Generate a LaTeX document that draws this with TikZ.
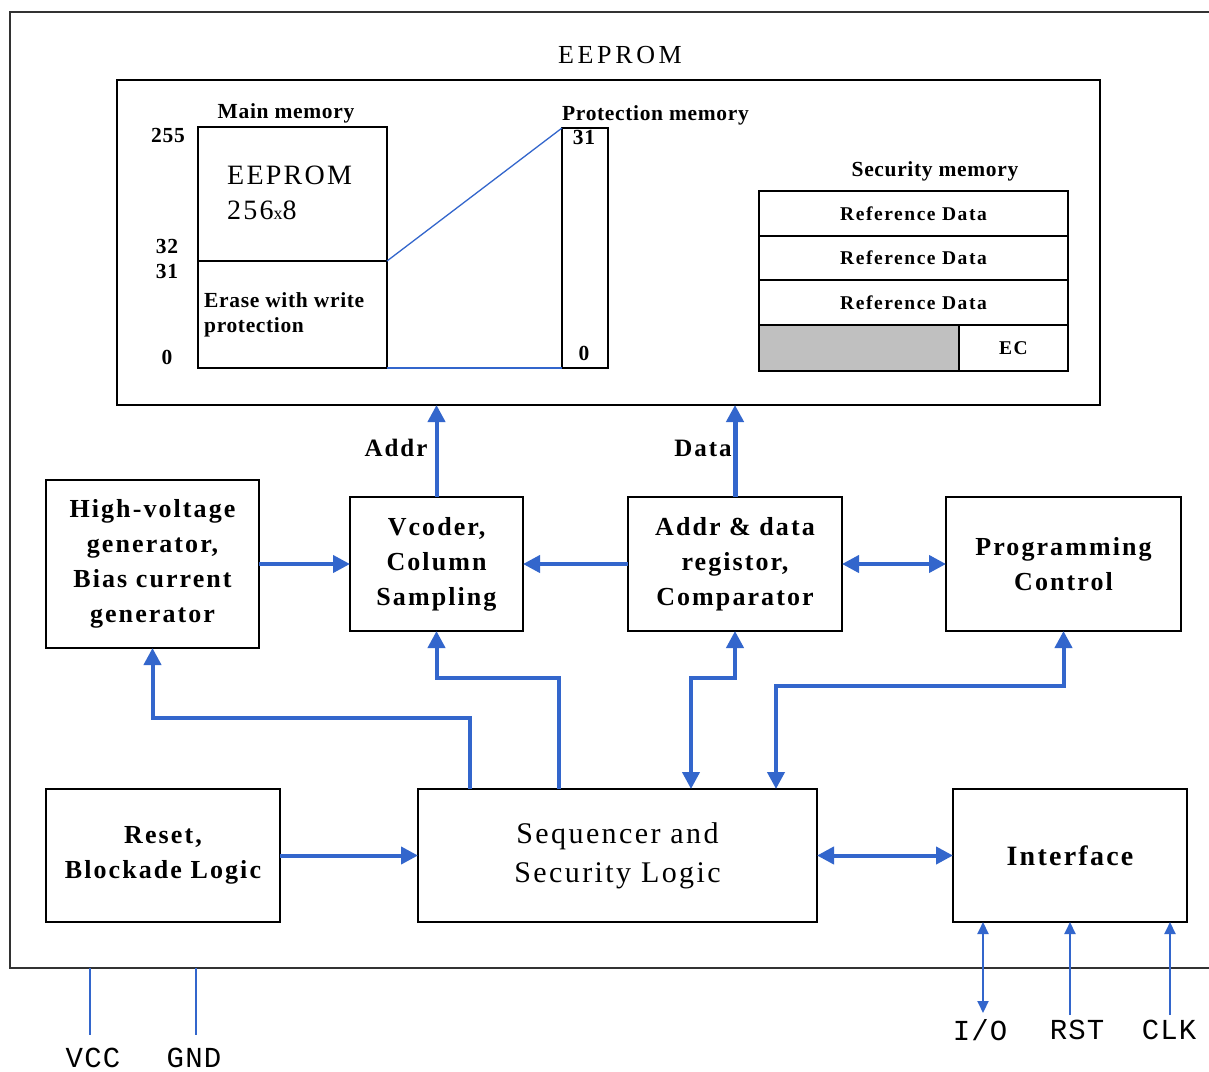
\documentclass[tikz,border=0pt]{standalone}
\usepackage{fontspec}
\setmainfont{Liberation Serif}
\newfontfamily\wideserif[LetterSpace=8]{Liberation Serif}
\newfontfamily\widerserif[LetterSpace=14]{Liberation Serif}
\newfontfamily\tightserif[LetterSpace=3]{Liberation Serif}
\newfontfamily\monolab[LetterSpace=4]{Liberation Mono}
\usetikzlibrary{arrows.meta}
\definecolor{linkblue}{RGB}{51,102,204}
\definecolor{memgray}{RGB}{192,192,192}
\definecolor{framegray}{RGB}{50,50,50}
\begin{document}
\begin{tikzpicture}[x=1pt,y=-1pt,
  blk/.style={draw=black, line width=1.8pt, inner sep=0pt, outer sep=0pt, align=center},
  bigtext/.style={font=\wideserif\bfseries\fontsize{26}{35}\selectfont},
  seqtext/.style={font=\wideserif\fontsize{30}{39}\selectfont},
  smalltext/.style={font=\tightserif\bfseries\fontsize{21.5}{27}\selectfont, inner sep=0pt},
  reftext/.style={font=\wideserif\bfseries\fontsize{19.5}{22}\selectfont, inner sep=0pt},
  pintext/.style={font=\monolab\fontsize{29}{32}\selectfont, inner sep=0pt},
  link/.style={draw=linkblue, line width=4pt, -{Triangle[length=17pt,width=17pt]}},
  dlink/.style={draw=linkblue, line width=4pt, {Triangle[length=17pt,width=17pt]}-{Triangle[length=17pt,width=17pt]}},
  thinlink/.style={draw=linkblue, line width=2pt, -{Triangle[length=12pt,width=11pt]}},
  thindlink/.style={draw=linkblue, line width=2pt, {Triangle[length=12pt,width=11pt]}-{Triangle[length=12pt,width=11pt]}},
  wire/.style={draw=linkblue, line width=1.6pt},
  memwire/.style={draw=linkblue, line width=1.3pt}
]
\useasboundingbox (0,0) rectangle (1209,1071);
\fill[white] (0,0) rectangle (1209,1071);

% outer frame
\draw[framegray, line width=2.5pt] (1220,12) -- (10,12) -- (10,968) -- (1220,968);
\node[font=\widerserif\fontsize{26}{30}\selectfont, inner sep=0pt] (title) at (620,55) {EEPROM};

% EEPROM block
\node[blk, minimum width=983pt, minimum height=325pt] (eeprom) at (608.5,242.5) {};

% main memory
\node[blk, minimum width=189pt, minimum height=134pt] (mainup) at (292.5,194) {};
\node[blk, minimum width=189pt, minimum height=107pt] (mainlow) at (292.5,314.5) {};
\node[smalltext] (mmlab) at (286,113) {Main memory};
\node[smalltext] (n255) at (168,135) {255};
\node[smalltext] (n32) at (167,246) {32};
\node[smalltext] (n31) at (167,271) {31};
\node[smalltext] (n0) at (167,357) {0};
\node[font=\wideserif\fontsize{28}{32}\selectfont, inner sep=0pt, anchor=west] (eepin) at (227,175) {EEPROM};
\node[font=\wideserif\fontsize{28}{32}\selectfont, inner sep=0pt, anchor=west] (size) at (227,210) {256{\fontsize{18}{20}\selectfont x}8};
\node[smalltext, anchor=west] (erase1) at (204,300) {Erase with write};
\node[smalltext, anchor=west] (erase2) at (204,327) {protection};

% protection memory
\node[blk, minimum width=46pt, minimum height=240pt] (prot) at (585,248) {};
\node[smalltext, anchor=west] (protlab) at (562,115) {Protection memory};
\node[smalltext] (p31) at (584,137) {31};
\node[smalltext] (p0) at (584,353) {0};
\draw[memwire] (mainup.south east) -- (prot.north west);
\draw[memwire] (mainlow.south east) -- (prot.south west);

% security memory
\node[smalltext] (seclab) at (935,171) {Security memory};
\node[blk, minimum width=309pt, minimum height=44.5pt, reftext] (ref1) at (913.5,213.5) {Reference Data};
\node[blk, minimum width=309pt, minimum height=44.5pt, reftext] (ref2) at (913.5,258) {Reference Data};
\node[blk, minimum width=309pt, minimum height=44.5pt, reftext] (ref3) at (913.5,302.5) {Reference Data};
\node[blk, fill=memgray, minimum width=200pt, minimum height=46pt] (grayc) at (859,348) {};
\node[blk, minimum width=109pt, minimum height=46pt, reftext] (ec) at (1013.5,348) {EC};

% function blocks
\node[blk, bigtext, minimum width=213pt, minimum height=168pt] (hv) at (152.5,564) {High-voltage\\generator,\\Bias current\\generator};
\node[blk, bigtext, minimum width=173pt, minimum height=134pt] (vc) at (436.5,564) {Vcoder,\\Column\\Sampling};
\node[blk, bigtext, minimum width=214pt, minimum height=134pt] (ad) at (735,564) {Addr \& data\\registor,\\Comparator};
\node[blk, bigtext, minimum width=235pt, minimum height=134pt] (pc) at (1063.5,564) {Programming\\Control};
\node[blk, bigtext, minimum width=234pt, minimum height=133pt] (rst) at (163,855.5) {Reset,\\Blockade Logic};
\node[blk, seqtext, minimum width=399pt, minimum height=133pt] (seq) at (617.5,855.5) {Sequencer and\\Security Logic};
\node[blk, bigtext, font=\wideserif\bfseries\fontsize{28}{35}\selectfont, minimum width=234pt, minimum height=133pt] (intf) at (1070,855.5) {Interface};

% bus labels
\node[font=\wideserif\bfseries\fontsize{25}{28}\selectfont, inner sep=0pt] (addrlab) at (396,448) {Addr};
\node[font=\wideserif\bfseries\fontsize{25}{28}\selectfont, inner sep=0pt] (datalab) at (703,448) {Data};

% connectors
\draw[link] (vc.north) -- (vc.north |- eeprom.south);
\draw[link, line width=5pt] (ad.north) -- (ad.north |- eeprom.south);
\draw[link] (hv.east) -- (vc.west);
\draw[link] (ad.west) -- (vc.east);
\draw[dlink] (ad.east) -- (pc.west);
\draw[link] ([xshift=52pt]seq.north west) -- ++(0,-71) -| (hv.south);
\draw[link] ([xshift=141pt]seq.north west) -- ++(0,-111) -| (vc.south);
\draw[dlink] ([xshift=273pt]seq.north west) -- ++(0,-111) -| (ad.south);
\draw[dlink] ([xshift=358pt]seq.north west) -- ++(0,-103) -| (pc.south);
\draw[link] (rst.east) -- (seq.west);
\draw[dlink] (seq.east) -- (intf.west);

% pins
\coordinate (iobot) at (983,1013);
\coordinate (rstbot) at (1070,1015);
\coordinate (clkbot) at (1170,1015);
\draw[thindlink] (iobot) -- (iobot |- intf.south);
\draw[thinlink] (rstbot) -- (rstbot |- intf.south);
\draw[thinlink] (clkbot) -- (clkbot |- intf.south);
\node[pintext] (iolab) at (980,1030) {I/O};
\node[pintext] (rstlab) at (1077,1030) {RST};
\node[pintext] (clklab) at (1169,1030) {CLK};

\coordinate (vcctop) at (90,968);
\coordinate (vccbot) at (90,1035);
\coordinate (gndtop) at (196,968);
\coordinate (gndbot) at (196,1035);
\draw[wire] (vcctop) -- (vccbot);
\draw[wire] (gndtop) -- (gndbot);
\node[pintext] (vcclab) at (93,1058) {VCC};
\node[pintext] (gndlab) at (194,1058) {GND};
\end{tikzpicture}
\end{document}
